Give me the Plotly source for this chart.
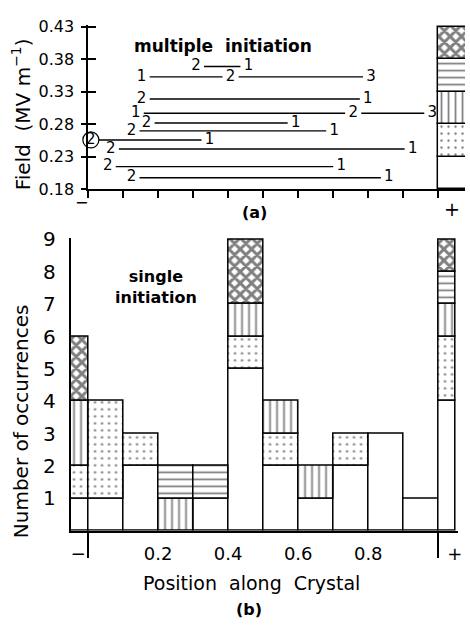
import numpy as np
import plotly.graph_objects as go

W, H = 470, 627

# ---------------- data ----------------
# (b) single initiation: histogram bins along the crystal (− electrode at 0, + electrode at 1)
bin_left = [-0.05, 0.0, 0.1, 0.2, 0.3, 0.4, 0.5, 0.6, 0.7, 0.8, 0.9, 1.0]
bin_width = [0.05, 0.1, 0.1, 0.1, 0.1, 0.1, 0.1, 0.1, 0.1, 0.1, 0.1, 0.05]
# occurrences per field class (MV/m)
count_018_023 = [1, 1, 2, 0, 1, 5, 2, 1, 2, 3, 1, 4]
count_023_028 = [1, 3, 1, 0, 0, 1, 1, 0, 1, 0, 0, 2]
count_028_033 = [2, 0, 0, 1, 0, 1, 1, 1, 0, 0, 0, 1]
count_033_038 = [0, 0, 0, 1, 1, 0, 0, 0, 0, 0, 0, 1]
count_038_043 = [2, 0, 0, 0, 0, 2, 0, 0, 0, 0, 0, 1]
field_edges = [0.18, 0.23, 0.28, 0.33, 0.38, 0.43]
class_patterns = ["", ".", "|", "-", "x"]

# (a) multiple initiation events: field, positions of initiation sites and their order
event_field = [0.369, 0.353, 0.319, 0.297, 0.282, 0.270, 0.256, 0.242, 0.215, 0.198]
event_pos = [
    [0.308, 0.458],
    [0.153, 0.407, 0.808],
    [0.153, 0.799],
    [0.136, 0.757, 0.983],
    [0.167, 0.593],
    [0.124, 0.703],
    [0.008, 0.347],
    [0.065, 0.927],
    [0.056, 0.723],
    [0.124, 0.859],
]
event_order = [
    ["2", "1"],
    ["1", "2", "3"],
    ["2", "1"],
    ["1", "2", "3"],
    ["2", "1"],
    ["2", "1"],
    ["2", "1"],
    ["2", "1"],
    ["2", "1"],
    ["2", "1"],
]
# the one initiation site that is circled in the original
circled_event = 6
circled_site = 0

field_ticks = [0.18, 0.23, 0.28, 0.33, 0.38, 0.43]
count_ticks = [1, 2, 3, 4, 5, 6, 7, 8, 9]
pos_ticks_b = [-0.028, 0.2, 0.4, 0.6, 0.8, 1.047]
pos_ticktext_b = ["\u2212", "0.2", "0.4", "0.6", "0.8", "+"]

# ---------------- styling helpers ----------------
FONT = "DejaVu Sans"
PAT = {
    "": dict(shape=""),
    ".": dict(shape=".", size=7, solidity=0.09),
    "|": dict(shape="|", size=7, solidity=0.25),
    "-": dict(shape="-", size=7, solidity=0.25),
    "x": dict(shape="x", size=8, solidity=0.6),
}
LABEL_GAP = 0.023  # gap left around each site label, in crystal-length units


def py(ypix):
    return 1 - ypix / H


def px(xpix):
    return xpix / W


SCALE = 354.0  # pixels per unit of crystal length
X0 = 89.0      # pixel of position 0

fig = go.Figure()

# ---------------- panel (b) stacked bars ----------------
counts = np.array([count_018_023, count_023_028, count_028_033, count_033_038, count_038_043], float)
bases = np.vstack([np.zeros(len(bin_left)), np.cumsum(counts, axis=0)[:-1]])
centers = np.array(bin_left) + np.array(bin_width) / 2
for k, shp in enumerate(class_patterns):
    m = counts[k] > 0
    fig.add_trace(go.Bar(
        x=centers[m], y=counts[k][m], base=bases[k][m], width=np.array(bin_width)[m],
        xaxis="x2", yaxis="y2", showlegend=False, hoverinfo="skip",
        marker=dict(color="white", line=dict(color="black", width=1.5),
                    pattern=dict(fgcolor="black", bgcolor="white", **PAT[shp])),
    ))

# ---------------- panel (a) key bar at + electrode ----------------
for k, shp in enumerate(class_patterns):
    fig.add_trace(go.Bar(
        x=[1.06], y=[field_edges[k + 1] - field_edges[k]], base=[field_edges[k]], width=[0.12],
        xaxis="x", yaxis="y", showlegend=False, hoverinfo="skip",
        marker=dict(color="white", line=dict(color="black", width=1.5),
                    pattern=dict(fgcolor="black", bgcolor="white", **PAT[shp])),
    ))

# ---------------- panel (a) events ----------------
seg_x, seg_y, lab_x, lab_y, lab_t = [], [], [], [], []
for f, pos, lab in zip(event_field, event_pos, event_order):
    ps = sorted(pos)
    for a, b in zip(ps[:-1], ps[1:]):
        seg_x += [a + LABEL_GAP, b - LABEL_GAP, None]
        seg_y += [f, f, None]
    lab_x += pos
    lab_y += [f] * len(pos)
    lab_t += lab

fig.add_trace(go.Scatter(x=seg_x, y=seg_y, mode="lines", line=dict(color="black", width=1.4),
                         xaxis="x", yaxis="y", showlegend=False, hoverinfo="skip"))
fig.add_trace(go.Scatter(x=[event_pos[circled_event][circled_site]], y=[event_field[circled_event]],
                         mode="markers", cliponaxis=False,
                         marker=dict(symbol="circle-open", size=16, color="black",
                                     line=dict(color="black", width=1.2)),
                         xaxis="x", yaxis="y", showlegend=False, hoverinfo="skip"))
fig.add_trace(go.Scatter(x=lab_x, y=lab_y, mode="text", text=lab_t, textposition="middle center",
                         textfont=dict(family=FONT, size=15, color="black"), cliponaxis=False,
                         xaxis="x", yaxis="y", showlegend=False, hoverinfo="skip"))

# dummy trace for the inside-tick overlay axis
fig.add_trace(go.Scatter(x=[None], y=[None], xaxis="x", yaxis="y3", showlegend=False,
                         hoverinfo="skip"))

# ---------------- text annotations ----------------
annotations = []


def txt(x, y, text, size, bold=False, angle=0):
    annotations.append(dict(
        x=px(x), y=py(y), xref="paper", yref="paper", text=f"<b>{text}</b>" if bold else text,
        showarrow=False, textangle=angle, xanchor="center", yanchor="middle",
        font=dict(family=FONT, size=size, color="black"),
    ))


txt(225, 37, "multiple  initiation", 17, bold=True)
txt(158, 286, "single<br>initiation", 16, bold=True)
txt(257, 209, "(a)", 16, bold=True)
txt(252, 619, "(b)", 16, bold=True)
txt(254, 592, "Position  along  Crystal", 19)
txt(21, 108, "Field  (MV m<sup>\u22121</sup>)", 20, angle=-90)
txt(22, 425, "Number of occurrences", 20, angle=-90)
txt(82, 199, "\u2212", 16)
txt(457, 206, "+", 19)

ax_common = dict(showgrid=False, zeroline=False, linecolor="black", linewidth=1.5,
                 tickcolor="black", tickwidth=1.5, color="black")

top_ymax = 0.4325
ypix_top_a = 185.3 - (top_ymax - 0.18) / 0.25 * 168.0
bot_ymax = 9.05
ypix_top_b = 538.0 - bot_ymax * 33.44

fig.update_layout(
    width=W, height=H, margin=dict(l=0, r=0, t=0, b=0),
    paper_bgcolor="white", plot_bgcolor="white",
    font=dict(family=FONT, color="black"),
    barmode="overlay", bargap=0,
    xaxis=dict(domain=[px(X0), 1.0], range=[0, (W - X0) / SCALE], anchor="y",
               showline=True, tickvals=[round(v, 1) for v in np.arange(0, 1.01, 0.1)],
               ticks="outside", ticklen=7, showticklabels=False, **ax_common),
    yaxis=dict(domain=[py(185.3), py(ypix_top_a)], range=[0.18, top_ymax], anchor="x",
               showline=True, tickvals=field_ticks, ticktext=[f"{v:.2f}" for v in field_ticks],
               ticks="outside", ticklen=5, ticklabelstandoff=4,
               tickfont=dict(family=FONT, size=16, color="black"), **ax_common),
    yaxis3=dict(overlaying="y", anchor="x", side="left", range=[0.18, top_ymax],
                tickvals=field_ticks, ticks="inside", ticklen=8, showticklabels=False,
                showline=False, showgrid=False, zeroline=False, tickcolor="black", tickwidth=1.5),
    xaxis2=dict(domain=[px(X0 - 0.05 * SCALE), px(X0 + 1.055 * SCALE)], range=[-0.05, 1.055],
                anchor="y2", showline=True, tickvals=pos_ticks_b, ticktext=pos_ticktext_b,
                ticks="", ticklabelstandoff=6,
                tickfont=dict(family=FONT, size=18, color="black"),
                minor=dict(tickmode="array", tickvals=[0, 1], ticks="outside", ticklen=25,
                           tickcolor="black", tickwidth=1.5),
                **ax_common),
    yaxis2=dict(domain=[py(538), py(ypix_top_b)], range=[0, bot_ymax], anchor="x2",
                showline=True, tickvals=count_ticks, ticks="", ticklabelstandoff=9,
                tickfont=dict(family=FONT, size=20, color="black"), **ax_common),
    annotations=annotations,
)

fig.write_html("out.html", config={"displayModeBar": False},
               post_script="document.body.style.margin='0';document.body.style.padding='0';")
